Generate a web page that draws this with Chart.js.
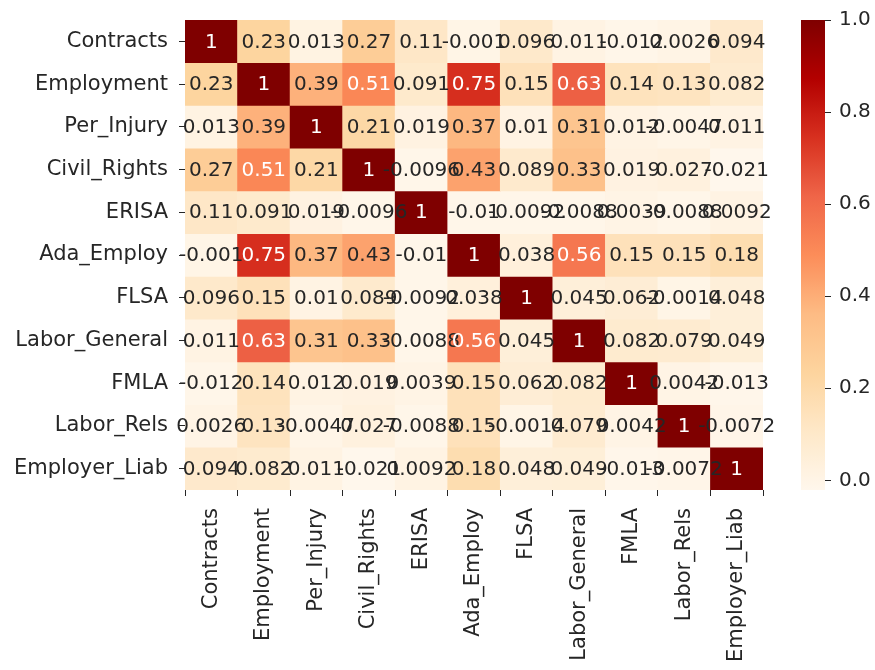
<!DOCTYPE html>
<html>
<head>
<meta charset="utf-8">
<script src="https://cdn.jsdelivr.net/npm/chart.js@4.4.1/dist/chart.umd.min.js"></script>
<style>
  html, body { margin: 0; padding: 0; background: #ffffff; }
  #wrap { width: 875px; height: 670px; position: relative; }
</style>
</head>
<body>
<div id="wrap"><canvas id="c" width="875" height="670"></canvas></div>
<script>
// Category labels (rows and columns share the same order)
const categories = ['Contracts', 'Employment', 'Per_Injury', 'Civil_Rights', 'ERISA', 'Ada_Employ',
  'FLSA', 'Labor_General', 'FMLA', 'Labor_Rels', 'Employer_Liab'];

// Correlation rows (one array per row)
const rowContracts    = [1, 0.23, 0.013, 0.27, 0.11, -0.001, 0.096, 0.011, -0.012, 0.0026, 0.094];
const rowEmployment   = [0.23, 1, 0.39, 0.51, 0.091, 0.75, 0.15, 0.63, 0.14, 0.13, 0.082];
const rowPerInjury    = [0.013, 0.39, 1, 0.21, 0.019, 0.37, 0.01, 0.31, 0.012, -0.0047, 0.011];
const rowCivilRights  = [0.27, 0.51, 0.21, 1, -0.0096, 0.43, 0.089, 0.33, 0.019, 0.027, -0.021];
const rowERISA        = [0.11, 0.091, 0.019, -0.0096, 1, -0.01, -0.0092, -0.0088, 0.0039, -0.0088, 0.0092];
const rowAdaEmploy    = [-0.001, 0.75, 0.37, 0.43, -0.01, 1, 0.038, 0.56, 0.15, 0.15, 0.18];
const rowFLSA         = [0.096, 0.15, 0.01, 0.089, -0.0092, 0.038, 1, 0.045, 0.062, -0.0014, 0.048];
const rowLaborGeneral = [0.011, 0.63, 0.31, 0.33, -0.0088, 0.56, 0.045, 1, 0.082, 0.079, 0.049];
const rowFMLA         = [-0.012, 0.14, 0.012, 0.019, 0.0039, 0.15, 0.062, 0.082, 1, 0.0042, -0.013];
const rowLaborRels    = [0.0026, 0.13, -0.0047, 0.027, -0.0088, 0.15, -0.0014, 0.079, 0.0042, 1, -0.0072];
const rowEmployerLiab = [0.094, 0.082, 0.011, -0.021, 0.0092, 0.18, 0.048, 0.049, -0.013, -0.0072, 1];

// Colour bar tick values
const colorbarTicks = [0, 0.2, 0.4, 0.6, 0.8, 1.0];

const rows = [rowContracts, rowEmployment, rowPerInjury, rowCivilRights, rowERISA, rowAdaEmploy,
  rowFLSA, rowLaborGeneral, rowFMLA, rowLaborRels, rowEmployerLiab];

const vmin = Math.min(...rows.flat());
const vmax = Math.max(...rows.flat());

// matplotlib OrRd
const orrd = ['#fff7ec', '#fee8c8', '#fdd49e', '#fdbb84', '#fc8d59', '#ef6548', '#d7301f', '#b30000', '#7f0000'];
function hexToRgb(h) { return [parseInt(h.slice(1,3),16), parseInt(h.slice(3,5),16), parseInt(h.slice(5,7),16)]; }
const orrdRgb = orrd.map(hexToRgb);
function cmapRgb(t) {
  t = Math.max(0, Math.min(1, t));
  const p = t * (orrdRgb.length - 1);
  const i = Math.min(Math.floor(p), orrdRgb.length - 2);
  const f = p - i;
  const a = orrdRgb[i], b = orrdRgb[i + 1];
  return [0,1,2].map(k => Math.round(a[k] + (b[k] - a[k]) * f));
}
function colorFor(v) {
  const c = cmapRgb((v - vmin) / (vmax - vmin));
  return `rgb(${c[0]},${c[1]},${c[2]})`;
}
function textColorFor(v) {
  const c = cmapRgb((v - vmin) / (vmax - vmin)).map(x => {
    x = x / 255;
    return x <= 0.03928 ? x / 12.92 : Math.pow((x + 0.055) / 1.055, 2.4);
  });
  const lum = 0.2126 * c[0] + 0.7152 * c[1] + 0.0722 * c[2];
  return lum > 0.408 ? '#262626' : '#ffffff';
}
function fmt(v) { return String(Number(v.toPrecision(2))); }

const FONT = 'DejaVu Sans';
const TXT = '#262626';

const datasets = rows.map((row, i) => ({
  label: categories[i],
  data: row.map(() => [i, i + 1]),
  backgroundColor: row.map(colorFor),
  borderWidth: 0,
  grouped: false,
  barPercentage: 1,
  categoryPercentage: 1
}));

const annotPlugin = {
  id: 'annot',
  afterDatasetsDraw(chart) {
    const ctx = chart.ctx, xs = chart.scales.x, ys = chart.scales.y;
    ctx.save();
    ctx.font = `20px "${FONT}"`;
    ctx.textAlign = 'center';
    ctx.textBaseline = 'middle';
    rows.forEach((row, i) => {
      row.forEach((v, j) => {
        ctx.fillStyle = textColorFor(v);
        ctx.fillText(fmt(v), xs.getPixelForValue(j), ys.getPixelForValue(i + 0.5) + 1);
      });
    });
    ctx.restore();
  }
};

const colorbarPlugin = {
  id: 'colorbar',
  afterDraw(chart) {
    const ctx = chart.ctx, cb = chart.scales.cb;
    const x0 = 801, x1 = 825;
    const top = cb.getPixelForValue(vmax), bot = cb.getPixelForValue(vmin);
    const g = ctx.createLinearGradient(0, bot, 0, top);
    for (let k = 0; k <= 40; k++) {
      const c = cmapRgb(k / 40);
      g.addColorStop(k / 40, `rgb(${c[0]},${c[1]},${c[2]})`);
    }
    ctx.save();
    ctx.fillStyle = g;
    ctx.fillRect(x0, top, x1 - x0, bot - top);
    ctx.strokeStyle = TXT;
    ctx.lineWidth = 1;
    colorbarTicks.forEach(t => {
      const y = Math.round(cb.getPixelForValue(t)) + 0.5;
      ctx.beginPath();
      ctx.moveTo(x1, y);
      ctx.lineTo(x1 + 6, y);
      ctx.stroke();
    });
    ctx.restore();
  }
};

function zeroPad(s) { s.paddingTop = 0; s.paddingBottom = 0; s.paddingLeft = 0; s.paddingRight = 0; }

new Chart(document.getElementById('c'), {
  type: 'bar',
  data: { labels: categories, datasets },
  plugins: [annotPlugin, colorbarPlugin],
  options: {
    responsive: false,
    animation: false,
    layout: { padding: { top: 20, left: 0, right: 0, bottom: 0 } },
    plugins: { legend: { display: false }, tooltip: { enabled: false } },
    scales: {
      x: {
        type: 'category',
        offset: true,
        afterFit(s) { s.height = 180; zeroPad(s); },
        grid: { display: true, drawOnChartArea: false, drawTicks: true, tickLength: 6, tickColor: TXT, tickWidth: 1 },
        border: { display: false },
        ticks: { autoSkip: false, minRotation: 90, maxRotation: 90, padding: 12, color: TXT,
          font: { family: FONT, size: 21 } }
      },
      y: {
        type: 'linear',
        position: 'left',
        reverse: true,
        min: 0,
        max: categories.length,
        afterFit(s) { s.width = 185; zeroPad(s); },
        afterBuildTicks(s) { s.ticks = categories.map((_, i) => ({ value: i + 0.5 })); },
        grid: { display: true, drawOnChartArea: false, drawTicks: true, tickLength: 6, tickColor: TXT, tickWidth: 1 },
        border: { display: false },
        ticks: { padding: 11, color: TXT, font: { family: FONT, size: 21 },
          callback: (v, idx) => categories[idx] }
      },
      cb: {
        type: 'linear',
        position: 'right',
        min: vmin,
        max: vmax,
        afterFit(s) { s.width = 112; zeroPad(s); },
        afterBuildTicks(s) { s.ticks = colorbarTicks.map(v => ({ value: v })); },
        grid: { display: false, drawTicks: false },
        border: { display: false },
        ticks: { padding: 76, color: TXT, font: { family: FONT, size: 20 },
          callback: v => v.toFixed(1) }
      }
    }
  }
});
</script>
</body>
</html>
